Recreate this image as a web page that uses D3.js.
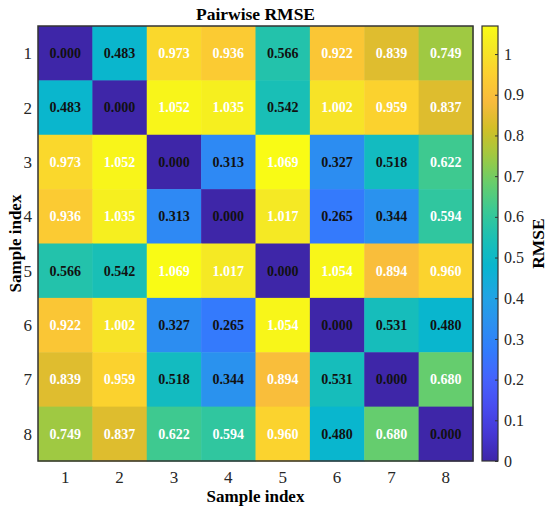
<!DOCTYPE html>
<html>
<head>
<meta charset="utf-8">
<script src="https://cdn.jsdelivr.net/npm/d3@7"></script>
<style>
  body { margin: 0; background: #fff; }
  svg text { font-family: "Liberation Serif", "Times New Roman", serif; }
</style>
</head>
<body>
<div id="chart"></div>
<script>
// Data
var samples = ["1", "2", "3", "4", "5", "6", "7", "8"];
var rmseRows = [
    [0.000, 0.483, 0.973, 0.936, 0.566, 0.922, 0.839, 0.749],
    [0.483, 0.000, 1.052, 1.035, 0.542, 1.002, 0.959, 0.837],
    [0.973, 1.052, 0.000, 0.313, 1.069, 0.327, 0.518, 0.622],
    [0.936, 1.035, 0.313, 0.000, 1.017, 0.265, 0.344, 0.594],
    [0.566, 0.542, 1.069, 1.017, 0.000, 1.054, 0.894, 0.960],
    [0.922, 1.002, 0.327, 0.265, 1.054, 0.000, 0.531, 0.480],
    [0.839, 0.959, 0.518, 0.344, 0.894, 0.531, 0.000, 0.680],
    [0.749, 0.837, 0.622, 0.594, 0.960, 0.480, 0.680, 0.000]
];
var colorbarTicks = [0, 0.1, 0.2, 0.3, 0.4, 0.5, 0.6, 0.7, 0.8, 0.9, 1];

// parula colormap, sampled from the 64-entry table
var parulaStops = [
    [0, 0.2422, 0.1504, 0.6603], [4, 0.2706, 0.2147, 0.8364],
    [8, 0.2813, 0.3006, 0.9414], [12, 0.2699, 0.3892, 0.9906],
    [16, 0.1963, 0.4847, 0.9892], [20, 0.1687, 0.5703, 0.9359],
    [24, 0.1248, 0.6459, 0.8883], [28, 0.0297, 0.7082, 0.8163],
    [32, 0.0964, 0.7500, 0.7120], [36, 0.2161, 0.7843, 0.5923],
    [40, 0.3909, 0.8029, 0.4354], [44, 0.6174, 0.7876, 0.2612],
    [48, 0.8203, 0.7498, 0.1535], [52, 0.9728, 0.7298, 0.2394],
    [56, 0.9892, 0.8136, 0.1885], [60, 0.9597, 0.9135, 0.1423],
    [63, 0.9769, 0.9839, 0.0805]
];

var width = 550, height = 511;
var mLeft = 38, mTop = 26, size = 435;
var cbX = 482, cbW = 16;

var vmax = d3.max(rmseRows, function (r) { return d3.max(r); });

var parula = d3.scaleLinear()
    .domain(parulaStops.map(function (s) { return s[0] / 63; }))
    .range(parulaStops.map(function (s) {
        return d3.rgb(s[1] * 255, s[2] * 255, s[3] * 255).toString();
    }))
    .interpolate(d3.interpolateRgb)
    .clamp(true);

function colorOf(v) { return parula(v / vmax); }

var svg = d3.select("#chart")
    .append("svg")
    .attr("width", width)
    .attr("height", height);

var x = d3.scaleBand().domain(samples).range([mLeft, mLeft + size]);
var y = d3.scaleBand().domain(samples).range([mTop, mTop + size]);

var cells = [];
rmseRows.forEach(function (row, i) {
    row.forEach(function (v, j) {
        cells.push({ r: samples[i], c: samples[j], v: v });
    });
});

svg.selectAll(".cell")
    .data(cells)
    .enter()
    .append("rect")
    .classed("cell", true)
    .attr("x", function (d) { return x(d.c); })
    .attr("y", function (d) { return y(d.r); })
    .attr("width", x.bandwidth() + 0.5)
    .attr("height", y.bandwidth() + 0.5)
    .attr("fill", function (d) { return colorOf(d.v); });

svg.selectAll(".val")
    .data(cells)
    .enter()
    .append("text")
    .classed("val", true)
    .attr("x", function (d) { return x(d.c) + x.bandwidth() / 2; })
    .attr("y", function (d) { return y(d.r) + y.bandwidth() / 2; })
    .attr("dy", "0.35em")
    .attr("text-anchor", "middle")
    .attr("font-size", 14)
    .attr("font-weight", "bold")
    .attr("fill", function (d) { return d.v > 0.58 ? "#ffffff" : "#111111"; })
    .text(function (d) { return d.v.toFixed(3); });

// heatmap frame
svg.append("rect")
    .attr("x", mLeft).attr("y", mTop)
    .attr("width", size).attr("height", size)
    .attr("fill", "none")
    .attr("stroke", "#333")
    .attr("stroke-width", 1.5);

// axis tick labels
svg.selectAll(".xt")
    .data(samples)
    .enter()
    .append("text")
    .attr("x", function (d) { return x(d) + x.bandwidth() / 2; })
    .attr("y", mTop + size + 22)
    .attr("text-anchor", "middle")
    .attr("font-size", 17)
    .attr("fill", "#262626")
    .text(function (d) { return d; });

svg.selectAll(".yt")
    .data(samples)
    .enter()
    .append("text")
    .attr("x", mLeft - 6)
    .attr("y", function (d) { return y(d) + y.bandwidth() / 2; })
    .attr("dy", "0.35em")
    .attr("text-anchor", "end")
    .attr("font-size", 17)
    .attr("fill", "#262626")
    .text(function (d) { return d; });

// titles
svg.append("text")
    .attr("x", mLeft + size / 2)
    .attr("y", 20)
    .attr("text-anchor", "middle")
    .attr("font-size", 17.5)
    .attr("font-weight", "bold")
    .text("Pairwise RMSE");

svg.append("text")
    .attr("x", mLeft + size / 2)
    .attr("y", 502)
    .attr("text-anchor", "middle")
    .attr("font-size", 17)
    .attr("font-weight", "bold")
    .text("Sample index");

svg.append("text")
    .attr("transform", "translate(21," + (mTop + size / 2) + ") rotate(-90)")
    .attr("text-anchor", "middle")
    .attr("font-size", 17)
    .attr("font-weight", "bold")
    .text("Sample index");

// colorbar
var cbScale = d3.scaleLinear().domain([0, vmax]).range([mTop + size, mTop]);

var defs = svg.append("defs");
var grad = defs.append("linearGradient")
    .attr("id", "cbgrad")
    .attr("x1", 0).attr("y1", 1).attr("x2", 0).attr("y2", 0);
d3.range(0, 65).forEach(function (k) {
    grad.append("stop")
        .attr("offset", k / 64)
        .attr("stop-color", parula(k / 64));
});

svg.append("rect")
    .attr("x", cbX).attr("y", mTop)
    .attr("width", cbW).attr("height", size)
    .attr("fill", "url(#cbgrad)")
    .attr("stroke", "#333")
    .attr("stroke-width", 1.2);

var cbAxis = svg.append("g")
    .attr("transform", "translate(" + (cbX + cbW) + ",0)")
    .call(d3.axisRight(cbScale)
        .tickValues(colorbarTicks)
        .tickSizeInner(-3)
        .tickSizeOuter(0)
        .tickPadding(6)
        .tickFormat(d3.format("~g")));
cbAxis.select(".domain").remove();
cbAxis.selectAll("line").attr("stroke", "#333");
cbAxis.selectAll("text")
    .attr("font-family", "Liberation Serif, serif")
    .attr("font-size", 16)
    .attr("fill", "#262626");

svg.append("text")
    .attr("transform", "translate(544," + (mTop + size / 2) + ") rotate(-90)")
    .attr("text-anchor", "middle")
    .attr("font-size", 17.5)
    .attr("font-weight", "bold")
    .text("RMSE");
</script>
</body>
</html>
